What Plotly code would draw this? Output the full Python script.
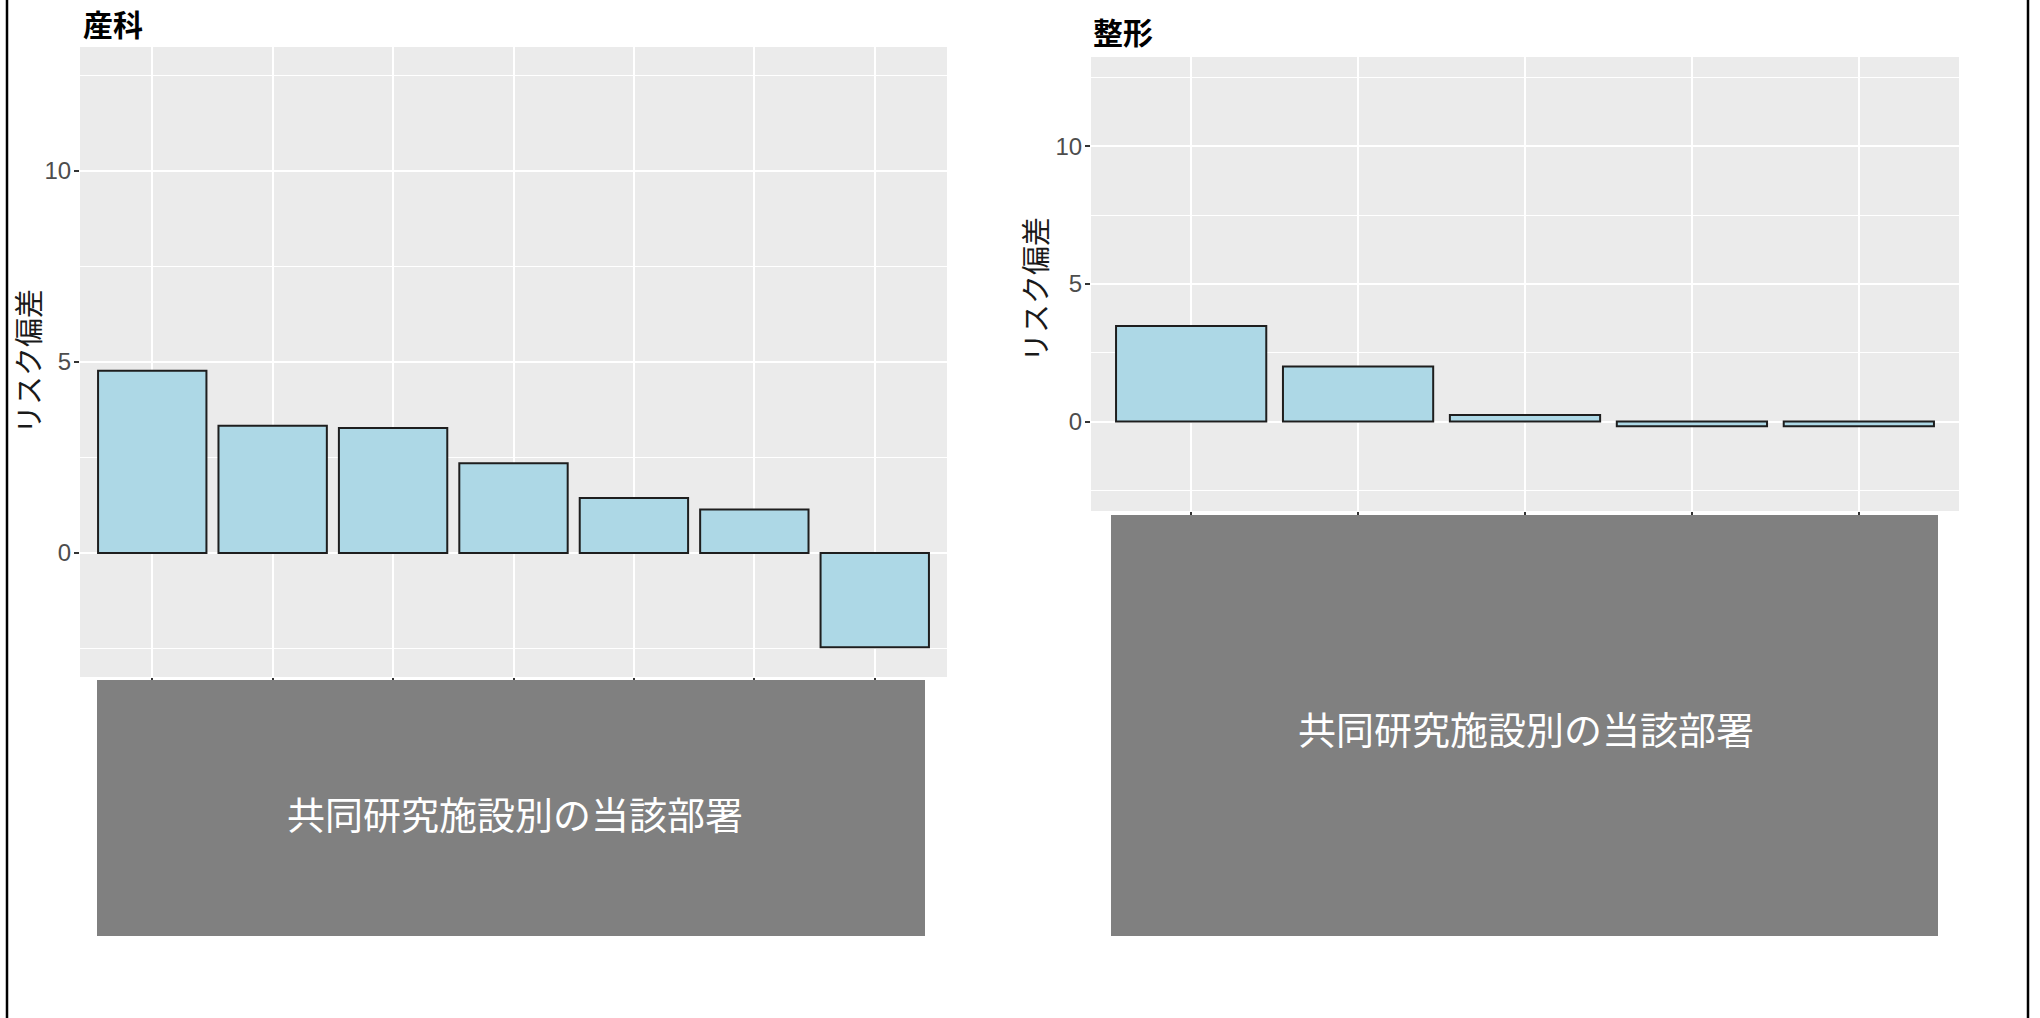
import plotly.graph_objects as go

W, H = 2040, 1018

# ---- data ----
obst_title = "産科"
obst_categories = ["施設1", "施設2", "施設3", "施設4", "施設5", "施設6", "施設7"]
obst_values = [4.77, 3.33, 3.27, 2.35, 1.44, 1.14, -2.47]

ortho_title = "整形"
ortho_categories = ["施設1", "施設2", "施設3", "施設4", "施設5"]
ortho_values = [3.47, 2.0, 0.24, -0.17, -0.17]

y_title = "リスク偏差"
x_title = "共同研究施設別の当該部署"
y_range = [-3.25, 13.25]
y_major = [0, 5, 10]
y_minor = [-2.5, 2.5, 7.5, 12.5]

# ---- layout helpers (pixel -> paper) ----
def px(x):
    return x / W

def py(y):
    return 1 - y / H

left_box = dict(x0=80, x1=947, y0=47, y1=677)
right_box = dict(x0=1091, x1=1959, y0=57, y1=511)

CJK = "Noto Sans CJK JP"
BAR_FILL = "#ADD8E6"
BAR_LINE = "#1E1E1E"
PANEL_BG = "#EBEBEB"

fig = go.Figure()

fig.add_trace(go.Bar(
    x=obst_categories, y=obst_values, xaxis="x", yaxis="y",
    marker=dict(color=BAR_FILL, line=dict(color=BAR_LINE, width=2)),
    width=0.9, showlegend=False, hoverinfo="x+y",
))
fig.add_trace(go.Bar(
    x=ortho_categories, y=ortho_values, xaxis="x2", yaxis="y2",
    marker=dict(color=BAR_FILL, line=dict(color=BAR_LINE, width=2)),
    width=0.9, showlegend=False, hoverinfo="x+y",
))

def xaxis_cfg(box, n):
    return dict(
        domain=[px(box["x0"]), px(box["x1"])],
        type="category",
        range=[-0.6, n - 0.4],
        showgrid=True, gridcolor="white", gridwidth=2,
        ticks="outside", ticklen=5, tickwidth=1.5, tickcolor="#333333",
        showticklabels=False, showline=False, zeroline=False,
        fixedrange=True,
    )

def yaxis_cfg(box, anchor):
    return dict(
        domain=[py(box["y1"]), py(box["y0"])],
        anchor=anchor,
        range=y_range,
        tickmode="array", tickvals=y_major, ticktext=[str(v) for v in y_major],
        showgrid=True, gridcolor="white", gridwidth=2.2,
        minor=dict(tickmode="array", tickvals=y_minor, showgrid=True,
                   gridcolor="white", gridwidth=1.1, ticks=""),
        ticks="outside", ticklen=5, tickwidth=1.5, tickcolor="#333333",
        ticklabelstandoff=-2,
        tickfont=dict(family="Liberation Sans", size=24, color="#4D4D4D"),
        showline=False, zeroline=False, fixedrange=True,
    )

fig.update_layout(
    width=W, height=H, autosize=False,
    margin=dict(l=0, r=0, t=0, b=0),
    paper_bgcolor="white", plot_bgcolor=PANEL_BG,
    bargap=0.1,
    xaxis=xaxis_cfg(left_box, len(obst_categories)) | dict(anchor="y"),
    yaxis=yaxis_cfg(left_box, "x"),
    xaxis2=xaxis_cfg(right_box, len(ortho_categories)) | dict(anchor="y2"),
    yaxis2=yaxis_cfg(right_box, "x2"),
)

shapes = []
# redaction boxes over x tick labels
for (x0, x1, y0, y1) in [(97, 925, 680, 936), (1111, 1938, 515, 936)]:
    shapes.append(dict(type="rect", xref="paper", yref="paper",
                       x0=px(x0), x1=px(x1), y0=py(y1), y1=py(y0),
                       fillcolor="#808080", line=dict(width=0), layer="above"))
# outer frame lines
for xv in [7, 2028]:
    shapes.append(dict(type="line", xref="paper", yref="paper",
                       x0=px(xv), x1=px(xv), y0=0, y1=1,
                       line=dict(color="black", width=2.5)))

annotations = [
    dict(text=obst_title, x=px(81), y=py(23), xref="paper", yref="paper",
         xanchor="left", yanchor="middle", showarrow=False,
         font=dict(family=CJK, size=30, color="black", weight="bold")),
    dict(text=ortho_title, x=px(1091), y=py(31), xref="paper", yref="paper",
         xanchor="left", yanchor="middle", showarrow=False,
         font=dict(family=CJK, size=30, color="black", weight="bold")),
    dict(text=y_title, x=px(27), y=py(362), xref="paper", yref="paper",
         xanchor="center", yanchor="middle", textangle=-90, showarrow=False,
         font=dict(family=CJK, size=29, color="#1A1A1A")),
    dict(text=y_title, x=px(1034), y=py(290), xref="paper", yref="paper",
         xanchor="center", yanchor="middle", textangle=-90, showarrow=False,
         font=dict(family=CJK, size=29, color="#1A1A1A")),
    dict(text=x_title, x=px(515), y=py(812), xref="paper", yref="paper",
         xanchor="center", yanchor="middle", showarrow=False,
         font=dict(family=CJK, size=38, color="white")),
    dict(text=x_title, x=px(1526), y=py(727), xref="paper", yref="paper",
         xanchor="center", yanchor="middle", showarrow=False,
         font=dict(family=CJK, size=38, color="white")),
]

fig.update_layout(shapes=shapes, annotations=annotations)

fig.write_html("out.html")
